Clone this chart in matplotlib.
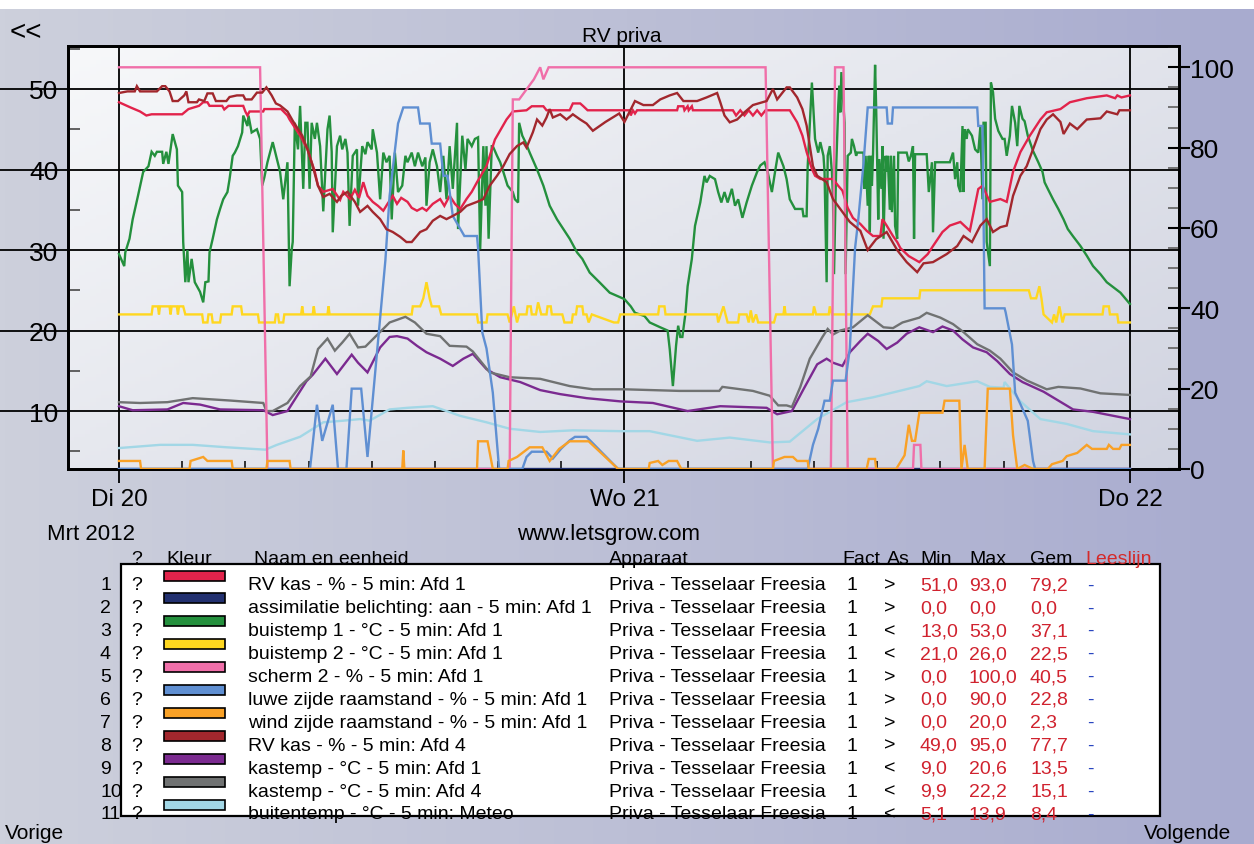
import numpy as np
import matplotlib
matplotlib.use("Agg")
import matplotlib.pyplot as plt
from matplotlib.colors import LinearSegmentedColormap
from matplotlib.patches import Rectangle
from matplotlib.ticker import MultipleLocator, FixedLocator

plt.rcParams['font.family'] = ['Liberation Sans', 'DejaVu Sans']

W, H = 1254, 845

# ---- measurements, (hours since Di 20 00:00, value) ----
# right axis (%)
rv_afd1 = [(0, 91.3), (0.55, 90), (1.0, 89), (1.3, 88), (1.55, 88.3), (3.0, 88.3), (3.3, 89.6), (3.8, 90.4),
           (4.0, 91.3), (4.2, 91.3), (4.3, 90.4), (4.9, 90.4), (5.0, 89.5), (5.2, 90.4), (5.9, 90.4), (6.0, 89),
           (6.1, 88), (6.2, 89), (6.85, 89), (6.9, 89.6), (7.7, 89.6), (8.0, 88), (8.1, 87), (8.6, 83),
           (8.95, 79.6), (9.3, 74), (9.45, 70.5), (9.7, 69), (10.15, 69.7), (10.5, 67), (10.65, 69), (10.97, 67.2),
           (11.2, 69.5), (11.4, 67.5), (11.6, 71.4), (11.8, 68), (12.05, 66.5), (12.3, 65.5), (12.55, 64.3),
           (12.75, 66), (13.0, 68), (13.2, 66), (13.4, 67.5), (13.7, 66.5), (13.9, 65), (14.15, 64.3), (14.4, 65),
           (14.6, 64.3), (14.9, 66), (15.25, 67.2), (15.45, 65.5), (15.7, 68), (15.95, 66), (16.2, 64.7),
           (16.5, 67.2), (16.75, 69), (17.0, 71.4), (17.45, 75.4), (17.85, 82), (18.4, 87), (18.7, 89),
           (19.35, 89.3), (19.6, 90.3), (20.15, 90.3), (20.3, 89.3), (21.4, 89.3), (21.55, 91), (21.9, 91),
           (22.05, 90.3), (22.25, 89.3), (24.25, 89.3), (24.3, 88), (24.4, 89.3), (24.5, 88.5), (24.6, 89.3),
           (26.5, 89.3), (26.55, 90.3), (26.8, 90.3), (26.85, 89.3), (27.0, 90.3), (27.05, 89.3), (27.2, 90.3),
           (27.25, 89.3), (29.15, 89.3), (29.3, 88), (29.5, 89.3), (29.7, 88), (29.9, 89.3), (30.1, 88),
           (30.3, 89.3), (30.5, 88), (30.7, 89.3), (31.85, 89.3), (32.2, 86.3), (32.45, 83), (32.65, 78.9),
           (32.9, 74.7), (33.05, 73), (33.3, 72.2), (33.9, 72.2), (34.15, 70.5), (34.35, 69.3), (34.6, 65),
           (34.85, 62.5), (35.2, 61), (35.5, 59.3), (35.8, 58), (36.15, 58), (36.25, 62.2), (36.45, 60.6),
           (36.75, 58), (36.95, 56.5), (37.1, 55), (37.5, 53), (38.0, 51.5), (38.4, 53.5), (38.65, 55.5),
           (39.1, 59), (39.45, 60.6), (39.95, 61.5), (40.4, 59.3), (40.8, 69.7), (41.0, 70.5), (41.35, 66.5),
           (41.85, 67.2), (42.15, 66.5), (42.45, 74), (42.8, 78.9), (43.25, 83), (43.75, 87), (44.05, 88.8),
           (44.7, 89.6), (45.15, 91.3), (45.95, 92.3), (46.9, 93), (47.3, 92.3), (47.4, 93), (47.6, 92.5), (48.0, 93)]

assimilatie = [(0, 0), (48, 0)]

scherm = [(0, 100), (6.7, 100), (7.05, 0), (18.55, 0), (18.7, 92), (19.0, 92), (19.7, 97), (20.0, 100),
          (20.15, 97), (20.4, 100), (30.7, 100), (31.05, 0), (33.8, 0), (34.0, 100), (34.4, 100), (34.6, 0),
          (37.7, 0), (37.75, 6), (38.05, 6), (38.1, 0), (48, 0)]

luwe = [(0, 0), (9.07, 0), (9.4, 16), (9.65, 7), (10.15, 16), (10.4, 0), (10.8, 0), (11.05, 20), (11.5, 20),
        (11.8, 3), (12.65, 52), (12.85, 68), (13.25, 86), (13.5, 90), (14.2, 90), (14.3, 86), (14.75, 86),
        (14.85, 81), (15.25, 81), (15.4, 73), (15.6, 73), (15.7, 69), (15.85, 63), (16.4, 58), (17.0, 58),
        (17.05, 55), (17.25, 34), (17.45, 30), (17.75, 19), (18.05, 0), (19.15, 0), (19.35, 3), (19.6, 4.3),
        (20.3, 4.3), (20.6, 2.6), (21.0, 5.1), (21.4, 7.1), (21.65, 8), (22.2, 8), (23.7, 0), (32.7, 0),
        (32.95, 6), (33.2, 10), (33.5, 17), (33.75, 17), (33.9, 22), (34.5, 22), (34.7, 30), (34.95, 55),
        (35.1, 62), (35.35, 76), (35.55, 90), (36.45, 90), (36.5, 86), (36.7, 86), (36.75, 90), (40.75, 90),
        (40.8, 85.4), (41.0, 85.4), (41.1, 40), (42.05, 40), (42.1, 39), (42.4, 31), (42.55, 19), (42.9, 15),
        (43.15, 12), (43.4, 2), (43.5, 0), (48, 0)]

wind = [(0, 2), (1.0, 2), (1.05, 0), (3.35, 0), (3.4, 2), (4.0, 3), (4.2, 2), (5.35, 2), (5.4, 0), (7.0, 0),
        (7.05, 2), (8.1, 2), (8.15, 0), (13.45, 0), (13.5, 4.6), (13.55, 0), (17.0, 0), (17.05, 6.9), (17.5, 6.9),
        (17.75, 0), (18.45, 0), (18.5, 2), (18.9, 3), (19.15, 4), (19.5, 5.4), (20.1, 5.4), (20.45, 2), (20.9, 5),
        (21.4, 6.9), (22.3, 6.9), (23.7, 0), (25.15, 0), (25.2, 1.5), (25.6, 2), (25.8, 1), (26.1, 2), (26.5, 2),
        (26.7, 0), (31.05, 0), (31.1, 2), (31.6, 3), (32.0, 3), (32.2, 2), (32.7, 2), (32.75, 0), (35.5, 0),
        (35.6, 2.5), (35.9, 2.5), (35.95, 0), (36.9, 0), (37.3, 3.4), (37.5, 11), (37.65, 7), (37.8, 7),
        (38.0, 14), (39.1, 14), (39.2, 17), (39.9, 17), (40.0, 0), (40.15, 6), (40.3, 0), (41.1, 0), (41.25, 20),
        (42.3, 20), (42.45, 8.4), (42.65, 0), (43.0, 1), (43.4, 0), (44.1, 0), (44.3, 1.2), (44.8, 2), (45.0, 3.2),
        (45.5, 4), (45.95, 6), (46.2, 5), (46.9, 5), (47.0, 6), (47.2, 5), (47.5, 5), (47.6, 6), (48, 6)]

rv_afd4 = [(0, 93.6), (0.4, 94), (0.75, 94), (0.85, 95.3), (1.0, 94), (1.8, 94), (2.05, 95.3), (2.2, 95.3),
           (2.4, 94), (2.55, 91.6), (2.8, 91.6), (3.1, 93), (3.2, 94), (3.3, 91.3), (3.7, 91.3), (3.8, 92),
           (4.05, 91.6), (4.2, 93.5), (4.45, 93.5), (4.6, 91.6), (5.1, 91.6), (5.25, 92.6), (5.6, 93), (5.9, 93),
           (6.0, 92), (6.3, 92), (6.55, 93.7), (6.8, 93.7), (7.0, 95), (7.25, 93), (7.45, 91), (7.65, 90.5),
           (8.0, 89), (8.25, 86.7), (8.7, 83), (8.95, 79.6), (9.2, 75.4), (9.45, 70.5), (9.7, 67.7), (10.0, 68.5),
           (10.35, 66.5), (10.55, 68), (10.85, 69), (11.2, 66.5), (11.45, 64), (11.8, 65.5), (12.05, 64),
           (12.4, 62.2), (12.7, 59.7), (13.0, 59), (13.35, 57.8), (13.65, 56.5), (13.9, 56.5), (14.3, 59),
           (14.6, 59.7), (14.9, 61.8), (15.25, 63), (15.55, 62.2), (15.85, 63), (16.2, 64), (16.5, 65.5),
           (17.0, 66.5), (17.3, 67.2), (17.6, 70.5), (17.95, 73), (18.25, 75.4), (18.55, 78.4), (18.9, 80.4),
           (19.2, 81.3), (19.35, 80), (19.65, 83.8), (19.85, 87), (20.1, 85.5), (20.3, 87.5), (20.45, 89.6),
           (20.6, 87.5), (20.95, 88.3), (21.25, 87), (21.55, 88.3), (21.9, 87), (22.2, 86), (22.5, 84.2),
           (23.1, 86.4), (23.75, 88.5), (24.0, 86.4), (24.25, 89), (24.5, 91.6), (24.9, 90.6), (25.35, 90.6),
           (25.7, 92), (26.15, 93), (26.5, 93.6), (26.8, 91.6), (27.45, 91.6), (27.9, 92.5), (28.4, 93.6),
           (28.55, 91.3), (28.75, 88), (29.0, 86.3), (29.35, 87), (29.7, 88.8), (30.1, 90.6), (30.75, 91.6),
           (31.05, 94.6), (31.25, 92), (31.55, 94), (31.7, 95), (31.85, 95), (32.2, 92.5), (32.45, 89.6),
           (32.65, 85.5), (32.8, 80.4), (32.95, 75.4), (33.15, 73), (33.6, 71.4), (33.9, 67.2), (34.25, 64.7),
           (34.7, 61.5), (35.2, 59.3), (35.55, 54.5), (35.95, 57.2), (36.45, 59), (36.95, 54.5), (37.4, 51.5),
           (37.9, 49), (38.2, 51.2), (38.65, 51.5), (39.3, 53.5), (39.8, 55.5), (40.1, 58), (40.5, 56.5),
           (40.9, 60.6), (41.2, 62.2), (41.5, 59), (41.85, 60.2), (42.15, 60.6), (42.45, 68), (42.8, 73),
           (43.1, 75.4), (43.4, 79.6), (43.75, 84.6), (44.05, 87), (44.35, 88.3), (44.7, 86.4), (44.85, 83.4),
           (45.15, 86), (45.5, 84.6), (45.95, 87), (46.6, 87.3), (46.9, 89), (47.4, 88.3), (47.5, 89.3), (48.0, 89.3)]

# left axis (degC)
buis1 = [(0, 29.5), (0.25, 28), (0.3, 29.7), (0.5, 31.4), (0.65, 33.8), (0.9, 36.7), (1.15, 39.7), (1.4, 40.4),
         (1.55, 42.2), (1.7, 41.7), (1.8, 42.2), (2.05, 42.2), (2.1, 40.7), (2.25, 42.2), (2.35, 40.7),
         (2.55, 44.4), (2.75, 42.5), (2.8, 38), (3.0, 37.2), (3.05, 31), (3.15, 26), (3.25, 30), (3.3, 26),
         (3.45, 28.9), (3.6, 26), (3.85, 24.8), (4.0, 23.5), (4.1, 26), (4.25, 26.1), (4.3, 29.7), (4.45, 31.4),
         (4.65, 33.8), (4.8, 35.1), (4.95, 36.3), (5.15, 37.2), (5.25, 38.8), (5.4, 41.7), (5.5, 42.1),
         (5.65, 42.9), (5.85, 44.6), (5.9, 46.7), (6.1, 45.4), (6.15, 46.7), (6.3, 44.6), (6.55, 45),
         (6.7, 43.8), (6.8, 38), (6.9, 39), (7.05, 40.9), (7.3, 43.4), (7.5, 41.3), (7.65, 39.7), (7.8, 36.3),
         (8.0, 40.9), (8.1, 25.5), (8.2, 30), (8.25, 31), (8.35, 45.8), (8.5, 42.5), (8.6, 47.9), (8.75, 37.6),
         (8.85, 45.8), (8.95, 45.8), (9.05, 37.6), (9.15, 45.8), (9.3, 43.8), (9.4, 45.8), (9.55, 42.9),
         (9.7, 34.8), (9.9, 45), (10.0, 46.7), (10.1, 42.2), (10.15, 32.2), (10.35, 42.9), (10.5, 44.2),
         (10.6, 42.5), (10.75, 43.8), (10.85, 42.1), (10.95, 33), (11.1, 41.7), (11.3, 42.5), (11.35, 35.5),
         (11.55, 42.9), (11.7, 41.9), (11.8, 43.4), (12.0, 42.5), (12.05, 45), (12.25, 42.1), (12.4, 36.3),
         (12.55, 42.1), (12.7, 40.9), (12.85, 41.7), (12.95, 33.8), (13.1, 42.1), (13.25, 37.2), (13.45, 38),
         (13.6, 41.7), (13.7, 40.9), (13.9, 42.1), (14.05, 40.4), (14.2, 42.1), (14.4, 40.4), (14.55, 41.5),
         (14.6, 35.5), (14.75, 40.9), (14.9, 42.5), (15.1, 40.4), (15.25, 37.2), (15.4, 41.7), (15.55, 36.3),
         (15.7, 42.9), (15.85, 37.6), (16.05, 45.8), (16.1, 32.6), (16.3, 44.2), (16.45, 40), (16.55, 43.8),
         (16.75, 42.9), (16.9, 43.8), (17.05, 44), (17.15, 30.1), (17.3, 42.9), (17.4, 35.5), (17.45, 42.9),
         (17.55, 31.4), (17.7, 42.9), (17.75, 42.9), (17.95, 41.7), (18.1, 40.9), (18.25, 39.7), (18.45, 38),
         (18.7, 37.2), (18.8, 36.3), (18.95, 35.9), (19.0, 45.8), (19.15, 44.2), (19.3, 43.4), (19.5, 42.1),
         (19.85, 40), (20.15, 38), (20.45, 35.5), (20.8, 33.8), (21.1, 32.6), (21.4, 31.4), (21.75, 29.7),
         (22.0, 28.9), (22.35, 27.2), (22.85, 25.9), (23.3, 24.7), (24.0, 23.9), (24.3, 23), (24.5, 22.2),
         (24.95, 21.8), (25.2, 21), (25.7, 20.4), (26.05, 20), (26.15, 17.7), (26.3, 13.1), (26.45, 18.1),
         (26.55, 20.6), (26.65, 19.2), (26.75, 19.2), (26.9, 22.2), (27.0, 25.5), (27.2, 28.9), (27.35, 33),
         (27.6, 35.9), (27.8, 39.2), (27.9, 38.4), (28.05, 39.2), (28.3, 38.8), (28.45, 37.2), (28.6, 35.9),
         (28.75, 37.2), (28.9, 35.9), (29.1, 37.6), (29.25, 35.5), (29.4, 36.3), (29.6, 34), (29.8, 35.9),
         (30.05, 38), (30.3, 39.7), (30.45, 40.5), (30.65, 40.9), (30.8, 39.7), (31.0, 37.2), (31.15, 39.7),
         (31.3, 42.1), (31.55, 40.4), (31.7, 38.8), (31.85, 36.3), (32.1, 35.1), (32.45, 35.1), (32.5, 34.2),
         (32.65, 34.2), (32.7, 40.4), (32.9, 50.8), (33.05, 43.8), (33.2, 42.1), (33.3, 43.4), (33.45, 41.7),
         (33.5, 39.7), (33.6, 26), (33.65, 41.7), (33.75, 42.9), (33.85, 39.7), (33.9, 36.7), (33.95, 27),
         (34.05, 40), (34.15, 47.9), (34.2, 50.4), (34.25, 47.1), (34.3, 52.1), (34.45, 45.8), (34.5, 27),
         (34.6, 41.7), (34.75, 42.1), (34.8, 43.8), (34.9, 42.9), (35.0, 41.7), (35.05, 42.1), (35.35, 42.1),
         (35.4, 37.6), (35.45, 41.7), (35.55, 35.5), (35.6, 41.7), (35.65, 32.2), (35.7, 41.7), (35.75, 38),
         (35.8, 41.7), (35.9, 53), (35.95, 47.9), (36.05, 33.8), (36.1, 41.3), (36.2, 37.6), (36.25, 42.9),
         (36.3, 31.4), (36.4, 41.7), (36.45, 39.7), (36.5, 41.7), (36.6, 35), (36.65, 41.7), (36.7, 34.7),
         (36.8, 41.7), (36.85, 33), (36.95, 31.4), (37.0, 42.1), (37.4, 42.1), (37.5, 41), (37.6, 41.7),
         (37.7, 42.9), (37.75, 31.4), (37.8, 41.9), (38.35, 41.9), (38.45, 37.2), (38.6, 40.9), (38.65, 32.2),
         (38.75, 40.9), (39.45, 40.9), (39.6, 42.1), (39.7, 38.8), (39.8, 40.9), (39.85, 38), (39.95, 37.2),
         (40.05, 45.4), (40.1, 37.2), (40.15, 45), (40.25, 43.8), (40.3, 45), (40.5, 44.2), (40.65, 42.5),
         (40.8, 42.1), (40.9, 45.4), (41.0, 36.3), (41.05, 45.8), (41.15, 45.8), (41.2, 31), (41.35, 28),
         (41.4, 50.8), (41.5, 49.6), (41.6, 46.3), (41.75, 44.8), (41.95, 43.8), (42.05, 43.8), (42.15, 41.7),
         (42.3, 44.2), (42.4, 47.9), (42.55, 45.8), (42.65, 42.9), (42.75, 47.9), (42.9, 46.3), (43.0, 46),
         (43.15, 44.2), (43.4, 42.3), (43.65, 40.9), (43.85, 39.7), (43.95, 38.4), (44.1, 37.6), (44.35, 36.3),
         (44.6, 35.1), (44.85, 33.8), (45.05, 32.6), (45.3, 31.7), (45.65, 30.5), (45.95, 29.3), (46.25, 28),
         (46.6, 27), (46.9, 26), (47.55, 24.7), (48.0, 23.3)]

buis2 = [(0, 22), (1.55, 22), (1.6, 23), (1.85, 23), (1.9, 22), (1.95, 23), (2.4, 23), (2.45, 22), (2.5, 23),
         (2.75, 23), (2.8, 22), (2.85, 23), (3.05, 23), (3.15, 22), (3.95, 22), (4.0, 21), (4.2, 21), (4.25, 22),
         (4.4, 22), (4.45, 21), (4.8, 21), (4.85, 22), (5.35, 22), (5.4, 23), (5.8, 23), (5.85, 22), (6.6, 22),
         (6.65, 21), (7.4, 21), (7.45, 22), (7.55, 22), (7.6, 21), (7.8, 21), (7.85, 22), (8.65, 22), (8.7, 23),
         (8.75, 22), (9.2, 22), (9.25, 23), (9.3, 22), (9.9, 22), (9.95, 23), (10.0, 22), (13.9, 22), (13.95, 23),
         (14.3, 23), (14.45, 24), (14.6, 26), (14.75, 24), (14.85, 23), (15.2, 23), (15.3, 22), (17.0, 22),
         (17.05, 21), (17.45, 21), (17.5, 22), (18.45, 22), (18.55, 21), (18.75, 23), (18.9, 21), (19.0, 22),
         (19.35, 22), (19.4, 23), (19.55, 23), (19.6, 22), (19.8, 22), (19.9, 23.5), (20.05, 22), (20.3, 22),
         (20.35, 23), (20.5, 23), (20.55, 22), (21.05, 22), (21.15, 21), (21.5, 21), (21.55, 22), (21.7, 22),
         (21.75, 23), (22.0, 23), (22.05, 22), (22.2, 22), (22.3, 21), (22.45, 22), (23.5, 21), (23.7, 21),
         (23.8, 22), (25.6, 22), (25.65, 23), (25.9, 23), (25.95, 22), (28.4, 22), (28.45, 21), (28.7, 23),
         (28.9, 21), (29.4, 21), (29.45, 22), (29.8, 22), (29.9, 21), (30.0, 22.5), (30.1, 21), (30.25, 22),
         (30.35, 21), (31.1, 21), (31.2, 22), (31.55, 22), (31.6, 23), (31.65, 22), (32.95, 22), (33.0, 23),
         (33.1, 22), (33.7, 22), (33.75, 23), (33.85, 22), (35.65, 22), (35.8, 23), (36.2, 23), (36.25, 24),
         (38.0, 24), (38.05, 25), (43.2, 25), (43.3, 24), (43.55, 24), (43.7, 25.5), (43.8, 24), (43.9, 22),
         (44.3, 21), (44.4, 22), (44.5, 21), (44.65, 23), (44.8, 21), (44.9, 22), (46.7, 22), (46.75, 23),
         (47.0, 23), (47.05, 22), (47.4, 22), (47.45, 21), (48, 21)]

kas_afd1 = [(0, 10.6), (0.65, 10.1), (2.3, 10.2), (3.05, 11.0), (3.85, 10.8), (4.8, 10.2), (6.85, 10.1),
            (7.3, 9.5), (8.0, 10.0), (8.9, 13.7), (9.2, 14.5), (9.8, 16.5), (10.35, 14.6), (11.05, 17.0),
            (11.35, 16.0), (11.8, 14.8), (12.4, 17.9), (12.85, 19.2), (13.2, 19.3), (13.7, 19.0), (14.15, 18.1),
            (14.6, 17.3), (15.25, 16.5), (15.85, 15.6), (16.35, 16.5), (16.8, 17.1), (17.45, 15.2), (18.1, 14.2),
            (19.05, 13.6), (20.0, 12.6), (20.95, 12.1), (22.2, 11.6), (23.8, 11.2), (25.35, 11.0), (27.0, 10.0),
            (28.55, 10.6), (30.75, 10.4), (31.25, 9.6), (31.95, 10.0), (32.5, 12.7), (33.15, 15.8), (33.6, 16.5),
            (33.9, 16.0), (34.35, 15.6), (34.7, 17.3), (35.2, 18.7), (35.55, 19.6), (36.05, 18.7), (36.45, 17.7),
            (36.95, 18.5), (37.4, 19.6), (38.0, 20.4), (38.65, 19.8), (39.1, 20.5), (39.6, 20.0), (40.05, 18.9),
            (40.55, 17.9), (41.2, 17.3), (41.7, 16.2), (42.3, 14.6), (42.9, 13.6), (43.9, 12.4), (45.3, 10.2),
            (46.25, 9.9), (48.0, 9.0)]

kas_afd4 = [(0, 11.1), (1.0, 11.0), (2.3, 11.1), (3.5, 11.6), (5.3, 11.3), (6.85, 11.0), (7.0, 10.0), (7.3, 10.0),
            (8.0, 11.0), (8.6, 13.1), (9.1, 14.3), (9.45, 17.7), (9.9, 19.0), (10.25, 17.5), (10.6, 18.5),
            (10.95, 19.6), (11.35, 17.9), (11.7, 18.0), (12.85, 21.0), (13.6, 21.7), (14.05, 21.0), (14.6, 19.6),
            (15.25, 19.3), (15.7, 18.1), (16.5, 18.0), (16.8, 17.4), (17.6, 14.8), (18.55, 14.2), (20.0, 14.0),
            (21.4, 13.1), (22.5, 12.7), (24.0, 12.7), (26.6, 12.5), (28.5, 12.5), (28.65, 13.0), (30.1, 12.5),
            (30.9, 11.9), (31.3, 10.7), (31.7, 10.7), (31.95, 10.5), (32.35, 13.0), (32.8, 16.5), (33.4, 19.2),
            (33.65, 20.2), (33.9, 19.5), (34.25, 20.0), (34.85, 20.4), (35.55, 21.9), (36.3, 20.4), (36.75, 20.3),
            (37.2, 21.0), (38.0, 21.6), (38.35, 22.2), (39.0, 21.6), (39.6, 20.8), (40.1, 19.8), (40.75, 18.3),
            (41.35, 17.5), (41.85, 16.5), (42.45, 14.8), (43.1, 13.8), (44.05, 12.7), (44.6, 13.0), (45.65, 12.8),
            (46.6, 12.2), (48.0, 12.0)]

buitentemp = [(0, 5.4), (1.95, 5.8), (3.5, 5.8), (5.1, 5.5), (6.95, 5.2), (7.5, 5.8), (8.6, 6.8), (9.7, 8.6),
              (10.65, 8.8), (11.45, 9.0), (11.9, 8.8), (12.85, 10.2), (13.7, 10.4), (14.9, 10.6), (16.2, 9.4),
              (17.45, 8.6), (18.55, 7.8), (20.0, 7.4), (21.55, 7.6), (23.8, 7.5), (25.2, 7.5), (27.45, 6.3),
              (29.0, 6.7), (30.9, 6.1), (31.85, 6.2), (33.15, 9.0), (34.55, 11.1), (35.8, 11.7), (38.0, 13.1),
              (38.35, 13.7), (39.3, 13.1), (40.75, 13.7), (41.35, 13.0), (42.0, 12.9), (42.05, 13.6), (42.8, 11.2),
              (43.75, 9.0), (45.0, 8.4), (46.25, 7.5), (48.0, 7.1)]

# legend table
names = ['RV kas - % - 5 min: Afd 1', 'assimilatie belichting: aan - 5 min: Afd 1',
         'buistemp 1 - \u00b0C - 5 min: Afd 1', 'buistemp 2 - \u00b0C - 5 min: Afd 1',
         'scherm 2 - % - 5 min: Afd 1', 'luwe zijde raamstand - % - 5 min: Afd 1',
         'wind zijde raamstand - % - 5 min: Afd 1', 'RV kas - % - 5 min: Afd 4',
         'kastemp - \u00b0C - 5 min: Afd 1', 'kastemp - \u00b0C - 5 min: Afd 4',
         'buitentemp - \u00b0C - 5 min: Meteo']
apparaat = 'Priva - Tesselaar Freesia'
sides = ['>', '>', '<', '<', '>', '>', '>', '>', '<', '<', '<']
mins = ['51,0', '0,0', '13,0', '21,0', '0,0', '0,0', '0,0', '49,0', '9,0', '9,9', '5,1']
maxs = ['93,0', '0,0', '53,0', '26,0', '100,0', '90,0', '20,0', '95,0', '20,6', '22,2', '13,9']
gems = ['79,2', '0,0', '37,1', '22,5', '40,5', '22,8', '2,3', '77,7', '13,5', '15,1', '8,4']
colors = ['#e2234b', '#22306f', '#24903d', '#ffd71f', '#f06fa9', '#5f8fd2', '#f9a126', '#a2272d',
          '#7b2a90', '#707272', '#a2d7e6']
series = [rv_afd1, assimilatie, buis1, buis2, scherm, luwe, wind, rv_afd4, kas_afd1, kas_afd4, buitentemp]

day_hours = [0, 24, 48]
day_labels = ['Di 20', 'Wo 21', 'Do 22']

fig = plt.figure(figsize=(W / 100, H / 100), dpi=100)
fig.patch.set_facecolor('white')


def fx(x):
    return x / W


def fy(y):
    return 1 - y / H


# page background
bg = fig.add_axes([0, 0, 1, fy(10)], zorder=-10)
bg_cmap = LinearSegmentedColormap.from_list('page', ['#cdd0dc', '#bcbfd6', '#a8abcf'])
bg.imshow(np.linspace(0, 1, 256)[None, :], aspect='auto', cmap=bg_cmap, extent=[0, 1, 0, 1])
bg.axis('off')

# chart
ax = fig.add_axes([fx(68), fy(470), fx(1179) - fx(68), fy(47) - fy(470)])
gx, gy = np.meshgrid(np.linspace(0, 1, 200), np.linspace(0, 1, 120))
plot_cmap = LinearSegmentedColormap.from_list('plot', ['#f7f8fa', '#e4e6ed', '#d0d3e0'])
ax.imshow(0.55 * gx + 0.45 * gy, extent=[0, 1, 0, 1], transform=ax.transAxes, aspect='auto',
          cmap=plot_cmap, zorder=0)

ax2 = ax.twinx()
left_idx = [2, 3, 8, 9, 10]
for i, (data, c) in enumerate(zip(series, colors)):
    h, v = zip(*data)
    target = ax if i in left_idx else ax2
    target.plot(h, v, color=c, lw=1.7, zorder=3, solid_joinstyle='miter')

ax.set_xlim(-2.42, 50.33)
ax.set_ylim(2.8, 55.34)
ax2.set_ylim(0, 105.3)

for v in range(10, 60, 10):
    ax.axhline(v, xmin=-0.062, xmax=1, color='black', lw=1.3, zorder=1, clip_on=False)
for d in day_hours:
    ax.axvline(d, color='black', lw=1.3, zorder=1)

for a in (ax, ax2):
    for s in a.spines.values():
        s.set_linewidth(2)
        s.set_color('black')

ax.set_xticks(day_hours)
ax.set_xticklabels(day_labels, fontsize=17.5)
ax.xaxis.set_minor_locator(FixedLocator([h for h in range(3, 48, 3) if h % 24]))
ax.tick_params(axis='x', which='major', direction='out', length=10, width=1.3, pad=4)
ax.tick_params(axis='x', which='minor', direction='in', length=6, width=1.1)

ax.set_yticks(range(10, 60, 10))
ax.set_yticklabels([str(v) for v in range(10, 60, 10)], fontsize=19)
ax.yaxis.set_minor_locator(FixedLocator(range(5, 60, 10)))
ax.tick_params(axis='y', which='major', length=0, pad=7)
ax.tick_params(axis='y', which='minor', direction='in', length=8.5, width=1.3, color='#555555')

ax2.set_yticks(range(0, 101, 20))
ax2.set_yticklabels([str(v) for v in range(0, 101, 20)], fontsize=19)
ax2.yaxis.set_minor_locator(MultipleLocator(5))
ax2.tick_params(axis='y', which='major', direction='inout', length=16, width=1.5, pad=0)
ax2.tick_params(axis='y', which='minor', direction='in', length=8, width=1.3, color='#6a6a6a')

# page texts and legend table, laid out in pixels
ov = fig.add_axes([0, 0, 1, 1], zorder=5)
ov.set_xlim(0, W)
ov.set_ylim(H, 0)
ov.axis('off')

ov.text(10, 33, '<<', fontsize=20, va='center', ha='left')
ov.text(622, 42, 'RV priva', fontsize=15, ha='center', va='baseline')
ov.text(135, 540, 'Mrt 2012', fontsize=16, ha='right', va='baseline')
ov.text(609, 540, 'www.letsgrow.com', fontsize=16, ha='center', va='baseline')
ov.text(5, 839, 'Vorige', fontsize=15, ha='left', va='baseline')
ov.text(1144, 839, 'Volgende', fontsize=15, ha='left', va='baseline')

fs = 14
hy = 564
ov.text(137, hy, '?', fontsize=fs, ha='center', va='baseline')
ov.text(166, hy, 'Kleur', fontsize=fs, va='baseline')
ov.text(254, hy, 'Naam en eenheid', fontsize=fs, va='baseline')
ov.text(609, hy, 'Apparaat', fontsize=fs, va='baseline')
ov.text(842, hy, 'Fact', fontsize=fs, va='baseline')
ov.text(887, hy, 'As', fontsize=fs, va='baseline')
ov.text(920, hy, 'Min', fontsize=fs, va='baseline')
ov.text(969, hy, 'Max', fontsize=fs, va='baseline')
ov.text(1030, hy, 'Gem', fontsize=fs, va='baseline')
ov.text(1085, hy, 'Leeslijn', fontsize=fs, va='baseline', color='#d42a2a')

ov.add_patch(Rectangle((121, 565), 1039, 252, facecolor='white', edgecolor='black', lw=1.6, zorder=1))

red = '#d0222e'
for i in range(len(names)):
    yb = 590.5 + 22.9 * i
    ov.text(100, yb, str(i + 1), fontsize=fs, va='baseline', zorder=3)
    ov.text(137, yb, '?', fontsize=fs, ha='center', va='baseline', zorder=3)
    ov.add_patch(Rectangle((164, yb - 19), 61, 10, facecolor=colors[i], edgecolor='black', lw=1.2, zorder=3))
    ov.text(248, yb, names[i], fontsize=fs, va='baseline', zorder=3)
    ov.text(609, yb, apparaat, fontsize=fs, va='baseline', zorder=3)
    ov.text(846, yb, '1', fontsize=fs, va='baseline', zorder=3)
    ov.text(884, yb, sides[i], fontsize=fs, va='baseline', zorder=3)
    ov.text(920, yb, mins[i], fontsize=fs, va='baseline', color=red, zorder=3)
    ov.text(969, yb, maxs[i], fontsize=fs, va='baseline', color=red, zorder=3)
    ov.text(1030, yb, gems[i], fontsize=fs, va='baseline', color=red, zorder=3)
    ov.text(1087, yb, '-', fontsize=fs, va='baseline', color='#2a46c0', zorder=3)

fig.savefig('out.png', dpi=100)
